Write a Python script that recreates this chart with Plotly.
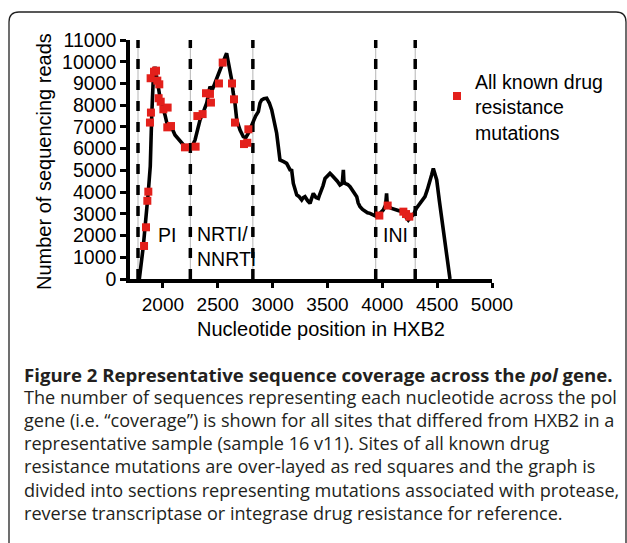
import plotly.graph_objects as go

# ---- data ----
cov_pos = [1785, 1821, 1867, 1885, 1898, 1912, 1928, 1940, 1958, 1975, 1989, 2005, 2019, 2035,
           2049, 2065, 2080, 2095, 2110, 2140, 2171, 2200, 2231, 2260, 2293, 2315, 2338, 2370,
           2399, 2415, 2429, 2450, 2475, 2500, 2520, 2550, 2581, 2600, 2627, 2640, 2657, 2673,
           2690, 2703, 2733, 2755, 2779, 2800, 2824, 2845, 2870, 2885, 2900, 2920, 2946, 2970,
           2992, 3015, 3037, 3052, 3067, 3100, 3128, 3159, 3174, 3189, 3205, 3220, 3240, 3265,
           3280, 3295, 3320, 3341, 3355, 3371, 3395, 3417, 3430, 3447, 3460, 3478, 3500, 3523,
           3545, 3569, 3590, 3614, 3635, 3645, 3650, 3660, 3685, 3706, 3735, 3767, 3780, 3797,
           3820, 3843, 3865, 3888, 3920, 3949, 3975, 4009, 4030, 4039, 4045, 4055, 4085, 4116,
           4145, 4177, 4200, 4237, 4260, 4283, 4310, 4344, 4365, 4389, 4410, 4435, 4450, 4465,
           4480, 4496, 4520, 4541, 4555, 4571, 4595, 4617]
cov_reads = [0, 1490, 4020, 5200, 7500, 9200, 9770, 9300, 8850, 8300, 8090, 7800, 7550, 7200,
             7010, 7150, 7010, 6800, 6630, 6450, 6250, 6100, 6020, 6050, 6400, 6900, 7320, 7700,
             8090, 8500, 8850, 8700, 9000, 9400, 9620, 10000, 10390, 9900, 9160, 8600, 8090, 7320,
             7000, 6860, 6550, 6500, 6710, 7000, 7320, 7500, 7700, 8100, 8240, 8300, 8320, 8100,
             7780, 7200, 6710, 6100, 5480, 5400, 5320, 5020, 5000, 4400, 4100, 3870, 3800, 3640,
             3750, 3790, 3600, 3480, 3700, 3940, 3750, 3710, 3900, 4100, 4300, 4630, 4750, 4860,
             4750, 4630, 4500, 4330, 4400, 5020, 4500, 4400, 4350, 4250, 4000, 3790, 3500, 3330,
             3200, 3100, 3050, 3020, 2950, 2870, 3000, 3180, 3400, 3940, 3450, 3330, 3250, 3180,
             3150, 3100, 2950, 2710, 2850, 2950, 3250, 3480, 3600, 3790, 4100, 4480, 4800, 5090,
             4800, 4560, 3600, 2870, 2300, 1790, 900, 0]

mut_pos = [1828, 1846, 1858, 1867, 1882, 1891, 1888, 1919, 1937, 1949, 1967, 1961, 1980, 2004,
           2043, 2040, 2074, 2201, 2298, 2314, 2362, 2393, 2429, 2438, 2511, 2545, 2630, 2648,
           2657, 2739, 2769, 2779, 3973, 4049, 4192, 4216, 4246]
mut_reads = [1520, 2380, 3600, 4020, 7200, 7660, 9240, 9540, 9590, 9130, 8960, 8320, 8160, 7810,
             7890, 6980, 7040, 6060, 6090, 7500, 7590, 8550, 8520, 8120, 9000, 9960, 9000, 8270,
             7200, 6210, 6270, 6890, 2920, 3380, 3100, 2990, 2870]

boundaries = [1773, 2250, 2820, 3940, 4300]
region_labels = ["PI", "NRTI/<br>NNRTI", "INI"]
region_label_x = [2037, 2293, 4120]
region_label_y = [2025, 1500, 2025]

x_ticks = [2000, 2500, 3000, 3500, 4000, 4500, 5000]
y_ticks = list(range(0, 11001, 1000))
y_tick_text = [str(v) for v in y_ticks]

legend_label = "All known drug<br>resistance<br>mutations"
x_title = "Nucleotide position in HXB2"
y_title = "Number of sequencing reads"
caption_lines = [
    "<b>Figure 2 Representative sequence coverage across the <i>pol</i> gene.</b>",
    "The number of sequences representing each nucleotide across the pol",
    "gene (i.e. \u201ccoverage\u201d) is shown for all sites that differed from HXB2 in a",
    "representative sample (sample 16 v11). Sites of all known drug",
    "resistance mutations are over-layed as red squares and the graph is",
    "divided into sections representing mutations associated with protease,",
    "reverse transcriptase or integrase drug resistance for reference.",
]

# ---- layout geometry (pixels) ----
W, H = 627, 543
L, R, T, B = 130, 492, 40, 279
RED = "#E3201B"
CHART_FONT = "Liberation Sans, Arial, sans-serif"
CAP_FONT = "Open Sans, Noto Sans, sans-serif"
CHART_FS = 19.5


def px(X):
    return (X - L) / (R - L)


def py(Y):
    return (B - Y) / (B - T)


fig = go.Figure()
fig.add_trace(go.Scatter(x=cov_pos, y=cov_reads, mode="lines",
                         line=dict(color="black", width=3.6), showlegend=False))
fig.add_trace(go.Scatter(x=mut_pos, y=mut_reads, mode="markers",
                         marker=dict(symbol="square", size=8, color=RED, line=dict(width=0)),
                         showlegend=False))

shapes = []
for b in boundaries:
    shapes.append(dict(type="line", xref="x", yref="y", x0=b, x1=b, y0=0, y1=11000,
                       line=dict(color="#b5b5b5", width=1), layer="below"))
    shapes.append(dict(type="line", xref="x", yref="y", x0=b, x1=b, y0=0, y1=11000,
                       line=dict(color="black", width=3.5, dash="10px,11px"), layer="below"))

# legend key
shapes.append(dict(type="rect", xref="paper", yref="paper",
                   x0=px(453), x1=px(461), y0=py(100), y1=py(92),
                   fillcolor=RED, line=dict(width=0)))

# rounded frame
fx0, fx1, fy0, fy1, r = 9, 626, 12, 600, 10
path = (f"M {px(fx0)},{py(fy1)} L {px(fx0)},{py(fy0 + r)} "
        f"Q {px(fx0)},{py(fy0)} {px(fx0 + r)},{py(fy0)} "
        f"L {px(fx1 - r)},{py(fy0)} Q {px(fx1)},{py(fy0)} {px(fx1)},{py(fy0 + r)} "
        f"L {px(fx1)},{py(fy1)}")
shapes.append(dict(type="path", xref="paper", yref="paper", path=path,
                   line=dict(color="#222222", width=1.3)))

annotations = []
for lab, lx, ly in zip(region_labels, region_label_x, region_label_y):
    annotations.append(dict(x=lx, y=ly, xref="x", yref="y", text=lab, showarrow=False,
                            xanchor="center" if "<br>" not in lab else "left",
                            align="left", font=dict(family=CHART_FONT, size=CHART_FS, color="black")))

annotations.append(dict(x=px(473), y=py(107), xref="paper", yref="paper", text=legend_label,
                        showarrow=False, xanchor="left", yanchor="middle", align="left",
                        font=dict(family=CHART_FONT, size=CHART_FS, color="black")))
annotations.append(dict(x=px(44), y=py(162), xref="paper", yref="paper", text=y_title,
                        showarrow=False, textangle=-90, xanchor="center", yanchor="middle",
                        font=dict(family=CHART_FONT, size=CHART_FS + 0.5, color="black")))
annotations.append(dict(x=px(321), y=py(329), xref="paper", yref="paper", text=x_title,
                        showarrow=False, xanchor="center", yanchor="middle",
                        font=dict(family=CHART_FONT, size=CHART_FS + 0.5, color="black")))

cap_y0, cap_dy = 374, 23.1
for i, line in enumerate(caption_lines):
    size = 18.6 if i == 0 else 18.1
    annotations.append(dict(x=px(22), y=py(cap_y0 + i * cap_dy), xref="paper", yref="paper",
                            text=line, showarrow=False, xanchor="left", yanchor="middle",
                            align="left", font=dict(family=CAP_FONT, size=size, color="#231f20")))

fig.update_layout(
    width=W, height=H,
    margin=dict(l=L, r=W - R, t=T, b=H - B, pad=0),
    paper_bgcolor="white", plot_bgcolor="white",
    shapes=shapes, annotations=annotations,
    xaxis=dict(range=[1700, 5000], tickvals=x_ticks, ticks="outside", ticklen=5, tickwidth=3,
               tickcolor="black", showline=True, linewidth=3.5, linecolor="black",
               showgrid=False, zeroline=False, automargin=False,
               tickfont=dict(family=CHART_FONT, size=CHART_FS - 0.5, color="black")),
    yaxis=dict(range=[0, 11000], tickvals=y_ticks, ticktext=y_tick_text, ticks="outside",
               ticklen=6, tickwidth=3,
               tickcolor="black", showline=True, linewidth=3.5, linecolor="black",
               showgrid=False, zeroline=False, automargin=False,
               tickfont=dict(family=CHART_FONT, size=CHART_FS, color="black")),
)

fig.write_html("out.html", config={"displayModeBar": False},
               post_script="document.body.style.margin='0px';")
